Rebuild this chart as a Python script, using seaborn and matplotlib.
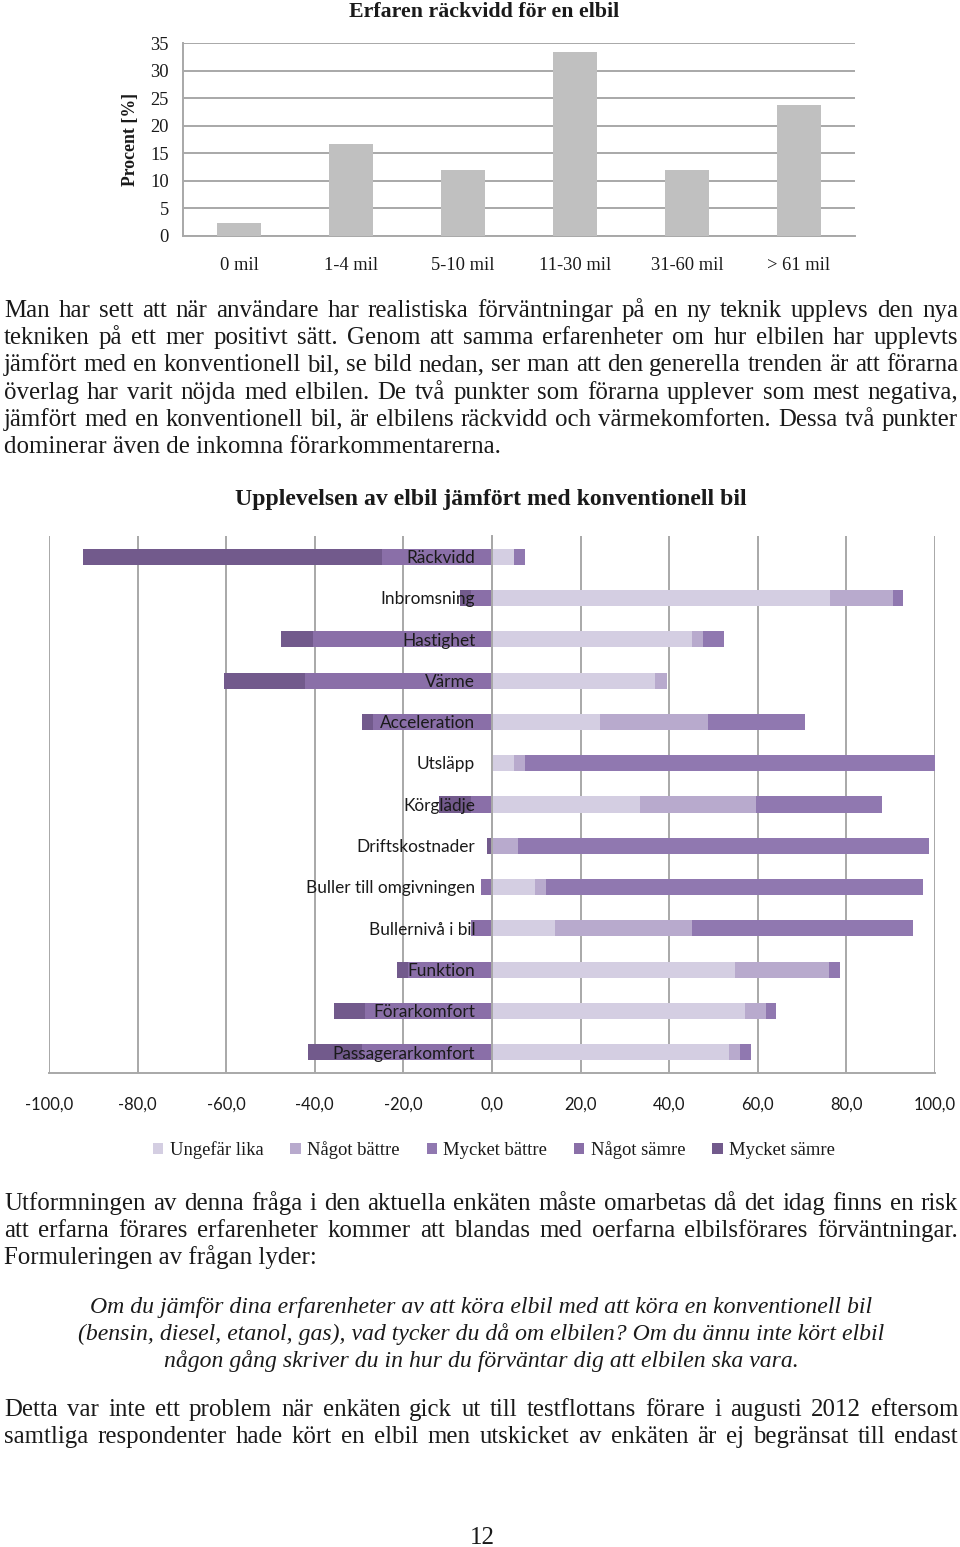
import matplotlib
matplotlib.use("Agg")
import matplotlib.pyplot as plt
from matplotlib.patches import Patch
import numpy as np
import seaborn as sns

# ---------------- data ----------------
range_cats = ["0 mil", "1-4 mil", "5-10 mil", "11-30 mil", "31-60 mil", "> 61 mil"]
range_pct = [2.4, 16.7, 11.9, 33.3, 11.9, 23.8]
range_yticks = [0, 5, 10, 15, 20, 25, 30, 35]

aspects = ["Räckvidd", "Inbromsning", "Hastighet", "Värme", "Acceleration", "Utsläpp",
           "Körglädje", "Driftskostnader", "Buller till omgivningen", "Bullernivå i bil",
           "Funktion", "Förarkomfort", "Passagerarkomfort"]
ungefar_lika = [5.0, 76.2, 45.1, 36.8, 24.4, 5.0, 33.3, 0.0, 9.7, 14.2, 54.8, 57.1, 53.6]
nagot_battre = [0.0, 14.3, 2.5, 2.6, 24.4, 2.4, 26.2, 5.9, 2.5, 30.9, 21.3, 4.8, 2.4]
mycket_battre = [2.5, 2.2, 4.8, 0.0, 21.9, 92.5, 28.6, 92.7, 85.2, 50.0, 2.4, 2.3, 2.5]
nagot_samre = [24.9, 4.8, 40.5, 42.2, 26.9, 0.0, 4.8, 0.0, 2.5, 4.8, 19.0, 28.7, 29.3]
mycket_samre = [67.5, 2.4, 7.1, 18.3, 2.4, 0.0, 7.1, 1.2, 0.0, 0.0, 2.4, 7.0, 12.2]
diff_ticks = [-100, -80, -60, -40, -20, 0, 20, 40, 60, 80, 100]
diff_ticklabels = ["-100,0", "-80,0", "-60,0", "-40,0", "-20,0", "0,0",
                   "20,0", "40,0", "60,0", "80,0", "100,0"]
legend_labels = ["Ungefär lika", "Något bättre", "Mycket bättre", "Något sämre", "Mycket sämre"]

title1 = "Erfaren räckvidd för en elbil"
ylabel1 = "Procent [%]"
title2 = "Upplevelsen av elbil jämfört med konventionell bil"

para1 = ["Man har sett att när användare har realistiska förväntningar på en ny teknik upplevs den nya",
         "tekniken på ett mer positivt sätt. Genom att samma erfarenheter om hur elbilen har upplevts",
         "jämfört med en konventionell bil, se bild nedan, ser man att den generella trenden är att förarna",
         "överlag har varit nöjda med elbilen. De två punkter som förarna upplever som mest negativa,",
         "jämfört med en konventionell bil, är elbilens räckvidd och värmekomforten. Dessa två punkter",
         "dominerar även de inkomna förarkommentarerna."]
para2 = ["Utformningen av denna fråga i den aktuella enkäten måste omarbetas då det idag finns en risk",
         "att erfarna förares erfarenheter kommer att blandas med oerfarna elbilsförares förväntningar.",
         "Formuleringen av frågan lyder:"]
quote = ["Om du jämför dina erfarenheter av att köra elbil med att köra en konventionell bil",
         "(bensin, diesel, etanol, gas), vad tycker du då om elbilen? Om du ännu inte kört elbil",
         "någon gång skriver du in hur du förväntar dig att elbilen ska vara."]
para3 = ["Detta var inte ett problem när enkäten gick ut till testflottans förare i augusti 2012 eftersom",
         "samtliga respondenter hade kört en elbil men utskicket av enkäten är ej begränsat till endast"]
page_no = "12"

# ---------------- style ----------------
sns.set_style("white")
SERIF = ["Liberation Serif", "DejaVu Serif"]
SANS = ["Lato", "DejaVu Sans"]
plt.rcParams["font.family"] = SERIF

C_UL, C_NB, C_MB, C_NS, C_MS = "#d4cee2", "#b8aacd", "#9078b0", "#8a6fa8", "#725a8c"
GRID = "#a8a8a8"
TXT = "#1a1a1a"

W, H = 960, 1547
fig = plt.figure(figsize=(W / 100, H / 100), dpi=100)
renderer = fig.canvas.get_renderer()


def fx(x):
    return x / W


def fy(y):
    return 1 - y / H


def tw(s, **kw):
    t = fig.text(0, 0, s, **kw)
    w = t.get_window_extent(renderer=renderer).width
    t.remove()
    return w


def fit(s, target, **kw):
    return 10 * target / tw(s, fontsize=10, **kw)


# ---------------- chart 1 ----------------
ax1 = fig.add_axes([fx(183), fy(236), (855 - 183) / W, (236 - 43) / H])
sns.barplot(x=range_cats, y=range_pct, color="#c0c0c0", saturation=1, width=0.4,
            errorbar=None, linewidth=0, ax=ax1, zorder=3)
ax1.set_xlim(-0.5, len(range_cats) - 0.5)
ax1.set_ylim(0, 35)
ax1.set_yticks(range_yticks)
ax1.set_axisbelow(True)
ax1.yaxis.grid(True, color=GRID, lw=1.4)
ax1.xaxis.grid(False)
for s in ["top", "right"]:
    ax1.spines[s].set_visible(False)
for s in ["left", "bottom"]:
    ax1.spines[s].set_color(GRID)
    ax1.spines[s].set_linewidth(1.4)
ax1.set_xticks(np.arange(-0.5, len(range_cats), 1), minor=True)
ax1.tick_params(axis="x", which="major", length=0, pad=15)
ax1.tick_params(axis="x", which="minor", length=5, color=GRID, width=1.2, direction="out")
ax1.tick_params(axis="y", which="major", length=4, color=GRID, width=1.2, direction="out", pad=6)
fs_t1 = fit("11-30 mil", 72, family=SERIF)
for lab in ax1.get_xticklabels() + ax1.get_yticklabels():
    lab.set_fontsize(fs_t1)
    lab.set_color(TXT)
    lab.set_family(SERIF)
ax1.set_xlabel("")
ax1.set_ylabel(ylabel1, fontsize=fit(ylabel1, 93, family=SERIF, weight="bold"),
               weight="bold", color=TXT)
ax1.yaxis.set_label_coords(-0.066, 0.5)
fig.text(fx(484), fy(17), title1, ha="center", va="baseline", color=TXT, weight="bold",
         fontsize=fit(title1, 271, family=SERIF, weight="bold"))

# ---------------- chart 2 ----------------
ax2 = fig.add_axes([fx(49), fy(1073), (935 - 49) / W, (1073 - 536) / H])
ul = np.array(ungefar_lika)
nb = np.array(nagot_battre)
mb = np.array(mycket_battre)
ns = np.array(nagot_samre)
ms = np.array(mycket_samre)
layers = [(ul + nb + mb, C_MB), (ul + nb, C_NB), (ul, C_UL),
          (-(ns + ms), C_MS), (-ns, C_NS)]
for vals, col in layers:
    sns.barplot(x=list(vals), y=aspects, orient="h", color=col, saturation=1, width=0.39,
                errorbar=None, linewidth=0, ax=ax2, zorder=3)
ax2.set_xlim(-100, 100)
ax2.set_ylim(len(aspects) - 0.5, -0.5)
ax2.set_axisbelow(True)
ax2.set_xticks(diff_ticks)
ax2.set_xticklabels(diff_ticklabels)
ax2.xaxis.grid(True, color=GRID, lw=1.4)
ax2.yaxis.grid(False)
for s in ["top", "right"]:
    ax2.spines[s].set_visible(False)
ax2.spines["left"].set_position(("data", 0))
for s in ["left", "bottom"]:
    ax2.spines[s].set_color(GRID)
    ax2.spines[s].set_linewidth(1.4)
ax2.spines["left"].set_zorder(4)
ax2.set_yticks(np.arange(-0.5, len(aspects), 1), minor=True)
ax2.tick_params(axis="y", which="major", length=0, labelleft=False)
ax2.tick_params(axis="y", which="minor", length=4, color=GRID, width=1.2, direction="out")
ax2.tick_params(axis="x", which="major", length=5, color=GRID, width=1.2, direction="out", pad=12)
fs_tick2 = fit("-100,0", 48, family=SANS)
for lab in ax2.get_xticklabels():
    lab.set_fontsize(fs_tick2)
    lab.set_family(SANS)
    lab.set_color(TXT)
ax2.set_xlabel("")
ax2.set_ylabel("")
fs_cat = fit("Buller till omgivningen", 168, family=SANS)
for i, name in enumerate(aspects):
    ax2.text(-3.8, i + 0.03, name, ha="right", va="center", fontsize=fs_cat,
             family=SANS, color=TXT, zorder=6)
fig.text(fx(491), fy(500), title2, ha="center", va="center", color=TXT, weight="bold",
         fontsize=fit(title2, 513, family=SERIF, weight="bold"))

handles = [Patch(facecolor=c, edgecolor="none") for c in [C_UL, C_NB, C_MB, C_NS, C_MS]]
fig.legend(handles, legend_labels, loc="center", bbox_to_anchor=(fx(494), fy(1150)),
           ncol=5, frameon=False, handlelength=0.55, handleheight=0.55, handletextpad=0.35,
           columnspacing=1.45, prop={"family": SERIF, "size": fit("Ungefär lika", 94, family=SERIF)},
           labelcolor=TXT)

# ---------------- page text ----------------
L, R = 4, 958
body_fs = min(fit(para1[5], 499, family=SERIF), fit(para1[2], 948, family=SERIF))
BODY = dict(family=SERIF, fontsize=body_fs, color=TXT)


def place_line(s, y, justify):
    if not justify:
        fig.text(fx(L), fy(y), s, ha="left", va="baseline", **BODY)
        return
    words = s.split(" ")
    ws = [tw(w, **BODY) for w in words]
    gap = (R - L - sum(ws)) / (len(words) - 1)
    x = L
    for w, wd in zip(words, ws):
        fig.text(fx(x), fy(y), w, ha="left", va="baseline", **BODY)
        x += wd + gap


for i, line in enumerate(para1):
    place_line(line, 317 + 27.2 * i, i < len(para1) - 1)
for i, line in enumerate(para2):
    place_line(line, 1210 + 27.2 * i, i < len(para2) - 1)
for i, line in enumerate(para3):
    place_line(line, 1416 + 27.2 * i, True)

q_fs = np.mean([fit(quote[0], 789, family=SERIF, style="italic"),
                fit(quote[1], 798, family=SERIF, style="italic"),
                fit(quote[2], 637, family=SERIF, style="italic")])
for i, line in enumerate(quote):
    fig.text(fx(481), fy(1313 + 27.2 * i), line, ha="center", va="baseline",
             family=SERIF, style="italic", fontsize=q_fs, color=TXT)

fig.text(fx(482), fy(1544), page_no, ha="center", va="baseline", **BODY)

fig.savefig("out.png", dpi=100, facecolor="white")
